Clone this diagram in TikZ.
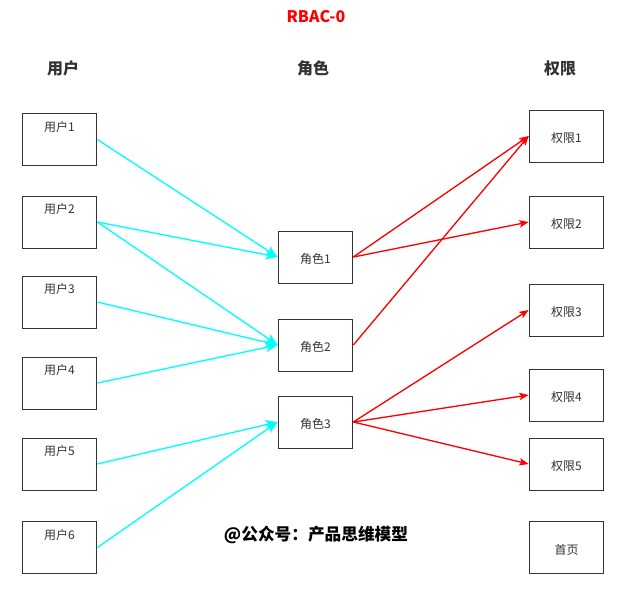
\documentclass[tikz,border=0pt]{standalone}
\usepackage{fontspec}
\usepackage{tikz}
\usetikzlibrary{positioning, arrows.meta}
\newfontfamily\cjk{Noto Sans CJK SC}
\definecolor{boxColor}{RGB}{51,51,51}
\definecolor{userLinkColor}{RGB}{0,255,255}
\definecolor{permLinkColor}{RGB}{255,0,0}
\tikzstyle{diagram} = [x = 0.75pt, y = -0.75pt]
\tikzstyle{boxStyle} = [draw=boxColor, line width=0.75pt, fill=white, minimum width=56pt, minimum height=39pt, inner sep=0pt, text height=10pt, text depth=0pt, text=boxColor, font=\cjk\fontsize{9}{9}\selectfont]
\tikzstyle{userText} = [anchor=north, inner sep=0pt, yshift=-6pt, text=boxColor, font=\cjk\fontsize{9}{9}\selectfont]
\tikzstyle{headerText} = [text=boxColor, font=\cjk\bfseries\fontsize{12}{12}\selectfont]
\tikzstyle{userLink} = [color=userLinkColor, line width=1pt, -{Stealth[length=9pt, width=7pt, inset=2pt]}]
\tikzstyle{permLink} = [color=permLinkColor, line width=1pt, -{Stealth[length=7pt, width=5.5pt, inset=1.5pt]}]
\newcommand{\userToRole}[2]{\draw [userLink] (user#1.east) -- (role#2.west);}
\newcommand{\roleToPerm}[2]{\draw [permLink] (role#1.east) -- (perm#2.west);}

\begin{document}
\begin{tikzpicture}[diagram]
  \useasboundingbox (0,0) rectangle (630,593);
  \node [text=permLinkColor, font=\cjk\bfseries\fontsize{12}{12}\selectfont] (title) at (316,17) {RBAC-0};
  \node [headerText] (userHeader) at (63,68) {用户};
  \node [headerText] (roleHeader) at (313,68) {角色};
  \node [headerText] (permHeader) at (560,68) {权限};

  \foreach \name/\ypos in {1/139.5, 2/222, 3/302, 4/383, 5/464, 6/547.5} {
    \node [boxStyle, label={[userText]north:用户\name}] (user\name) at (59.5,\ypos) {};
  }
  \foreach \name/\ypos in {1/257, 2/345, 3/422} {
    \node [boxStyle] (role\name) at (315.5,\ypos) {角色\name};
  }
  \foreach \name/\ypos in {1/136, 2/222, 3/310, 4/395, 5/464} {
    \node [boxStyle] (perm\name) at (566.5,\ypos) {权限\name};
  }
  \node [boxStyle] (home) at (566.5,547.5) {首页};

  \userToRole{1}{1}
  \userToRole{2}{1}
  \userToRole{2}{2}
  \userToRole{3}{2}
  \userToRole{4}{2}
  \userToRole{5}{3}
  \userToRole{6}{3}

  \roleToPerm{1}{1}
  \roleToPerm{1}{2}
  \roleToPerm{2}{1}
  \roleToPerm{3}{3}
  \roleToPerm{3}{4}
  \roleToPerm{3}{5}

  \node [text=black, font=\cjk\bfseries\fontsize{12.5}{12.5}\selectfont] (mark) at (316,535) {@公众号：产品思维模型};
\end{tikzpicture}
\end{document}
